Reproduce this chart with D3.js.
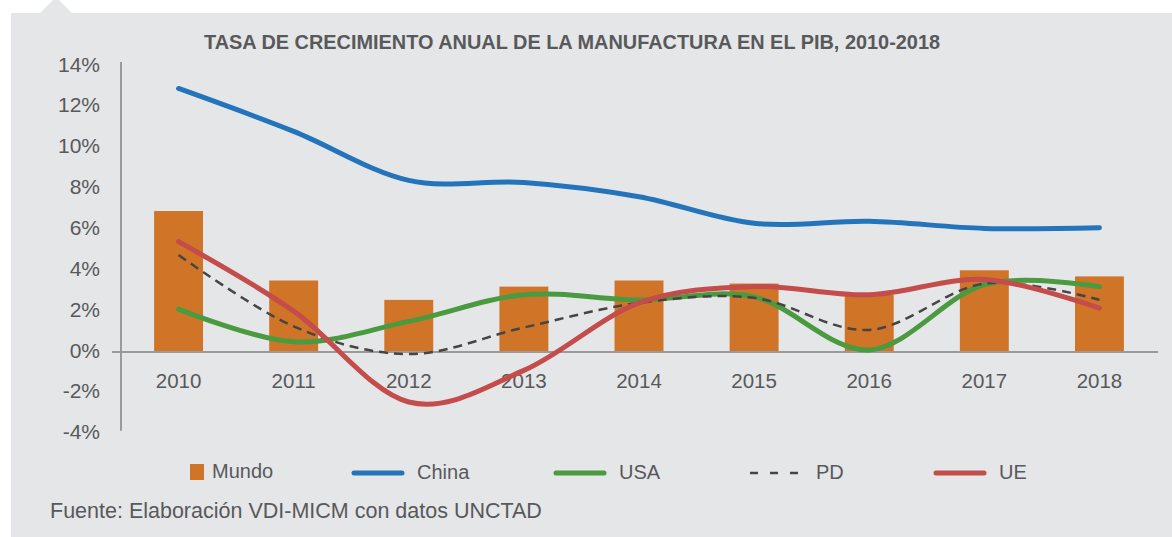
<!DOCTYPE html>
<html>
<head>
<meta charset="utf-8">
<script src="https://cdn.jsdelivr.net/npm/d3@7"></script>
<style>
  body { margin: 0; background: #fff; }
  text { font-family: "Liberation Sans Narrow", "Liberation Sans", Arial, sans-serif; fill: #58595b; }
</style>
</head>
<body>
<script>
let width = 1172,
    height = 537;

let years = ["2010", "2011", "2012", "2013", "2014", "2015", "2016", "2017", "2018"];
let mundo = [6.9, 3.5, 2.55, 3.2, 3.5, 3.35, 2.8, 4.0, 3.7];
let china = [12.9, 10.8, 8.4, 8.3, 7.6, 6.3, 6.4, 6.05, 6.08];
let usa = [2.1, 0.5, 1.5, 2.8, 2.55, 2.7, 0.1, 3.3, 3.2];
let pd = [4.75, 1.25, -0.1, 1.2, 2.4, 2.65, 1.08, 3.35, 2.55];
let ue = [5.4, 2.0, -2.45, -0.9, 2.4, 3.2, 2.8, 3.55, 2.15];
let yTicks = [-4, -2, 0, 2, 4, 6, 8, 10, 12, 14];

let series = [
    { name: "China", values: china, color: "#2474bc", dash: null, w: 5 },
    { name: "USA", values: usa, color: "#4a9a40", dash: null, w: 5 },
    { name: "PD", values: pd, color: "#454545", dash: "9,6", w: 2.5 },
    { name: "UE", values: ue, color: "#c44c4a", dash: null, w: 5 }
];

let svg = d3.select("body").append("svg")
    .attr("width", width)
    .attr("height", height);

// panel de fondo con la pestaña arriba
svg.append("rect")
    .attr("x", 11).attr("y", 13)
    .attr("width", width - 11).attr("height", height - 13)
    .attr("fill", "#e5e6e8");
svg.append("path")
    .attr("d", "M 40 13 L 56 -3 L 72 13 Z")
    .attr("fill", "#e5e6e8");

let x = d3.scaleBand().domain(years).range([121, 1157]).paddingInner(0.575).paddingOuter(0.2875);
let y = d3.scaleLinear().domain([-4, 14]).range([433.7, 66]);

svg.append("text")
    .attr("x", 572).attr("y", 44)
    .attr("text-anchor", "middle")
    .attr("dominant-baseline", "middle")
    .style("font-weight", "bold")
    .style("font-size", "19.9px")
    .text("TASA DE CRECIMIENTO ANUAL DE LA MANUFACTURA EN EL PIB, 2010-2018");

// eje y
svg.append("g")
    .selectAll("text")
    .data(yTicks)
    .enter()
    .append("text")
    .attr("x", 100)
    .attr("y", d => y(d))
    .attr("text-anchor", "end")
    .attr("dominant-baseline", "middle")
    .style("font-size", "21px")
    .text(d => d + "%");

svg.append("line")
    .attr("x1", 121).attr("x2", 121)
    .attr("y1", y(14) - 4).attr("y2", y(-4) - 3)
    .attr("stroke", "#9a9a9c").attr("stroke-width", 2);

// barras Mundo
svg.append("g")
    .selectAll("rect")
    .data(mundo)
    .enter()
    .append("rect")
    .attr("x", (d, i) => x(years[i]))
    .attr("width", x.bandwidth())
    .attr("y", d => y(d))
    .attr("height", d => y(0) - y(d))
    .attr("fill", "#d07428");

svg.append("line")
    .attr("x1", 112).attr("x2", 1158)
    .attr("y1", y(0)).attr("y2", y(0))
    .attr("stroke", "#9a9a9c").attr("stroke-width", 2);

svg.append("g")
    .selectAll("text")
    .data(years)
    .enter()
    .append("text")
    .attr("x", d => x(d) + x.bandwidth() / 2)
    .attr("y", 383)
    .attr("text-anchor", "middle")
    .attr("dominant-baseline", "middle")
    .style("font-size", "20.5px")
    .text(d => d);

// lineas suavizadas
let line = d3.line()
    .x((d, i) => x(years[i]) + x.bandwidth() / 2)
    .y(d => y(d))
    .curve(d3.curveCatmullRom.alpha(0));

svg.append("g")
    .selectAll("path")
    .data(series)
    .enter()
    .append("path")
    .attr("d", d => line(d.values))
    .attr("fill", "none")
    .attr("stroke", d => d.color)
    .attr("stroke-width", d => d.w)
    .attr("stroke-linecap", d => d.dash ? "butt" : "round")
    .attr("stroke-dasharray", d => d.dash);

// leyenda
let legendY = 473;
svg.append("rect")
    .attr("x", 190).attr("y", legendY - 9)
    .attr("width", 14).attr("height", 16)
    .attr("fill", "#d07428");
svg.append("text")
    .attr("x", 212).attr("y", legendY)
    .attr("dominant-baseline", "middle")
    .style("font-size", "20px")
    .text("Mundo");

let legendX = [351, 553, 750, 933];
series.forEach((s, i) => {
    svg.append("line")
        .attr("x1", legendX[i] + (s.dash ? 0 : 3)).attr("x2", legendX[i] + (s.dash ? 54 : 51))
        .attr("y1", legendY).attr("y2", legendY)
        .attr("stroke", s.color)
        .attr("stroke-width", s.dash ? 2.5 : 5)
        .attr("stroke-linecap", s.dash ? "butt" : "round")
        .attr("stroke-dasharray", s.dash ? "8,12" : null);
    svg.append("text")
        .attr("x", legendX[i] + 66).attr("y", legendY + 1)
        .attr("dominant-baseline", "middle")
        .style("font-size", "20px")
        .text(s.name);
});

svg.append("text")
    .attr("x", 50).attr("y", 512)
    .attr("dominant-baseline", "middle")
    .style("font-size", "21.5px")
    .text("Fuente: Elaboración VDI-MICM con datos UNCTAD");
</script>
</body>
</html>
